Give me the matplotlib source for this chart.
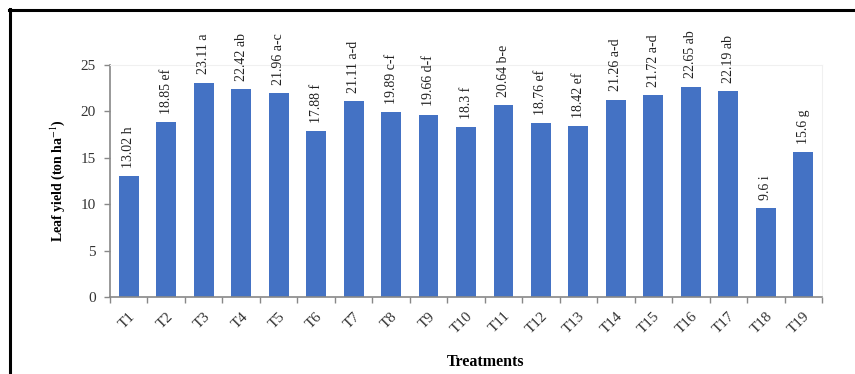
import matplotlib
matplotlib.use("Agg")
import matplotlib.pyplot as plt
from matplotlib.lines import Line2D
import numpy as np

# Leaf yield per treatment with mean-separation letters
treatments = [f"T{i}" for i in range(1, 20)]
leaf_yield = [13.02, 18.85, 23.11, 22.42, 21.96, 17.88, 21.11, 19.89, 19.66, 18.3,
              20.64, 18.76, 18.42, 21.26, 21.72, 22.65, 22.19, 9.6, 15.6]
letters = ["h", "ef", "a", "ab", "a-c", "f", "a-d", "c-f", "d-f", "f",
           "b-e", "ef", "ef", "a-d", "a-d", "ab", "ab", "i", "g"]

plt.rcParams["font.family"] = ["Liberation Serif", "DejaVu Serif"]
plt.rcParams["mathtext.fontset"] = "stix"

W, H = 855, 374
fig = plt.figure(figsize=(W / 100, H / 100), dpi=100)
ax = fig.add_axes([110 / W, 1 - 297 / H, (822 - 110) / W, (297 - 65) / H])

x = np.arange(len(treatments))
bars = ax.bar(x, leaf_yield, width=0.53, color="#4472C4", zorder=2)

for xi, v, g in zip(x, leaf_yield, letters):
    ax.annotate(f"{v:g} {g}", (xi, v), xytext=(0, 6), textcoords="offset points",
                rotation=90, ha="center", va="bottom", fontsize=10, color="#222222")

ax.set_xlim(-0.5, len(treatments) - 0.5)
ax.set_ylim(0, 25)
ax.set_yticks(np.arange(0, 26, 5))

# category labels at bar centres, tick marks between categories
ax.set_xticks(x)
ax.set_xticklabels(treatments, rotation=45, ha="right", rotation_mode="anchor",
                   fontsize=11, color="#333333")
ax.set_xticks(np.arange(-0.5, len(treatments), 1), minor=True)
ax.tick_params(axis="x", which="major", length=0, pad=9)
ax.tick_params(axis="x", which="minor", length=4, width=1, color="#888888", direction="out")
ax.tick_params(axis="y", length=4, width=1, color="#888888", labelsize=11,
               labelcolor="#333333", pad=6)

for s in ["left", "bottom"]:
    ax.spines[s].set_color("#888888")
    ax.spines[s].set_linewidth(1.2)
for s in ["top", "right"]:
    ax.spines[s].set_color("#f0f0f0")
    ax.spines[s].set_linewidth(0.8)

ax.set_ylabel(r"Leaf yield (ton ha$^{-1}$)", fontsize=10, fontweight="bold", labelpad=10)
fig.text(486 / W, 1 - 362 / H, "Treatments", ha="center", va="center",
         fontsize=11.5, fontweight="bold")

# black frame along the top and left edges
fig.add_artist(Line2D([9 / W, 1], [1 - 10 / H, 1 - 10 / H], transform=fig.transFigure,
                      color="black", linewidth=2.2))
fig.add_artist(Line2D([10 / W, 10 / W], [0, 1 - 9 / H], transform=fig.transFigure,
                      color="black", linewidth=2.2))

fig.savefig("out.png", dpi=100)
